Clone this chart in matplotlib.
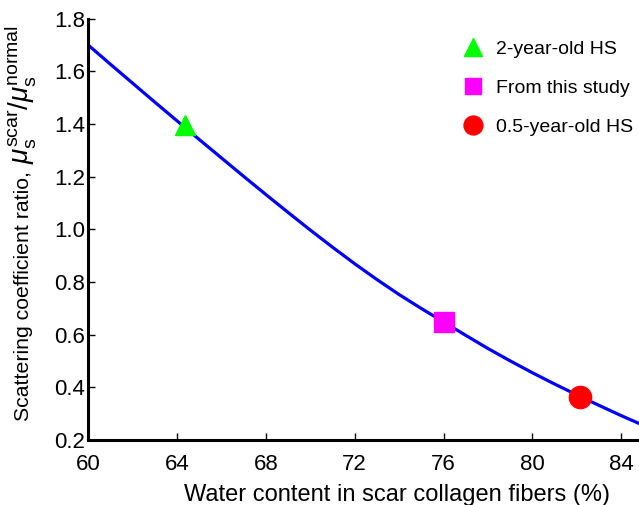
import matplotlib
matplotlib.use("Agg")
import matplotlib.pyplot as plt

plt.rcParams['font.family'] = ['Liberation Sans', 'DejaVu Sans']
plt.rcParams['mathtext.fontset'] = 'custom'
plt.rcParams['mathtext.rm'] = 'Liberation Sans'
plt.rcParams['mathtext.it'] = 'Liberation Sans:italic'

# model curve
water = [60, 61, 62, 63, 64, 65, 66, 67, 68, 69, 70, 71, 72, 73, 74, 75, 76,
         77, 78, 79, 80, 81, 82, 83, 84, 85]
ratio = [1.70, 1.627, 1.555, 1.483, 1.412, 1.341, 1.271, 1.201, 1.132, 1.064, 0.997,
         0.932, 0.869, 0.809, 0.752, 0.699, 0.648, 0.597, 0.547, 0.500, 0.455,
         0.412, 0.371, 0.331, 0.292, 0.255]

# literature / measured points
pt_labels = ['2-year-old HS', 'From this study', '0.5-year-old HS']
pt_water = [64.35, 76.0, 82.15]
pt_ratio = [1.395, 0.648, 0.362]
pt_markers = ['^', 's', 'o']
pt_colors = ['#00ff00', '#ff00ff', '#ff0000']
pt_sizes = [15, 14, 16]

xticks = [60, 64, 68, 72, 76, 80, 84]
yticks = [0.2, 0.4, 0.6, 0.8, 1.0, 1.2, 1.4, 1.6, 1.8]

W, H = 639, 505
fig = plt.figure(figsize=(W / 100, H / 100), dpi=100)
ax = fig.add_axes([0.138, 0.129, 0.862, 0.834])

ax.plot(water, ratio, color='#0000ff', linewidth=2.3, zorder=2)
for x, y, m, c, s, lab in zip(pt_water, pt_ratio, pt_markers, pt_colors, pt_sizes, pt_labels):
    ax.plot([x], [y], linestyle='none', marker=m, color=c, markersize=s, label=lab, zorder=3)

ax.set_xlim(60, 84.8)
ax.set_ylim(0.2, 1.8)
ax.set_xticks(xticks)
ax.set_yticks(yticks)
ax.set_yticklabels(['%.1f' % v for v in yticks])

for side in ['top', 'right']:
    ax.spines[side].set_visible(False)
for side in ['left', 'bottom']:
    ax.spines[side].set_linewidth(2.2)
ax.tick_params(direction='in', length=5, width=1, labelsize=16)
ax.tick_params(axis='x', pad=10)
ax.tick_params(axis='y', pad=2)

ax.set_xlabel('Water content in scar collagen fibers (%)', fontsize=17)
ax.xaxis.set_label_coords(0.561, -0.105)

# y label: plain text part plus a larger math part
t1 = fig.text(29 / W, 1 - 421 / H, 'Scattering coefficient ratio,', fontsize=15.3,
              rotation=90, rotation_mode='anchor', ha='left', va='baseline')
fig.canvas.draw()
bb = t1.get_window_extent()
fig.text(29 / W, (bb.y1 + 7) / H,
         r'$\mu_\mathrm{s}^\mathrm{scar}/\mu_\mathrm{s}^\mathrm{normal}$', fontsize=20,
         rotation=90, rotation_mode='anchor', ha='left', va='baseline')

ax.legend(loc='upper right', frameon=False, fontsize=14, markerscale=0.85,
          handlelength=1.0, handletextpad=0.7, labelspacing=1.1,
          bbox_to_anchor=(1.022, 0.99))

fig.savefig('out.png', dpi=100)
